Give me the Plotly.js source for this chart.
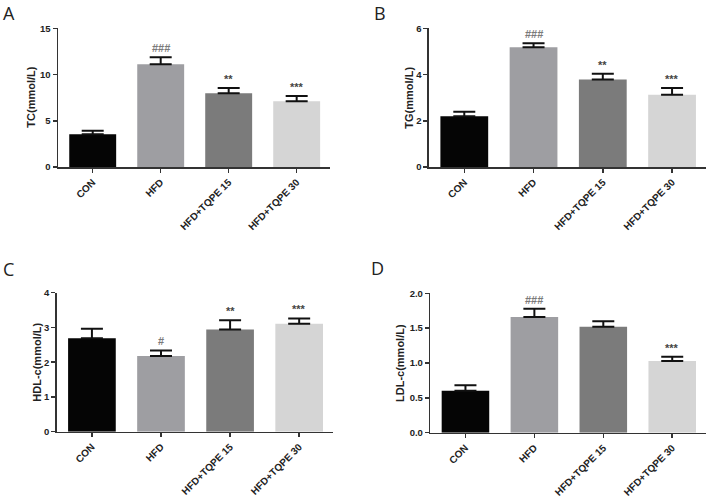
<!DOCTYPE html>
<html>
<head>
<meta charset="utf-8">
<script src="https://cdn.plot.ly/plotly-3.0.1.min.js"></script>
<style>html,body{margin:0;padding:0;background:#fff;}#chart{width:706px;height:499px;}</style>
</head>
<body>
<div id="chart"></div>
<script>
const categories = ['CON', 'HFD', 'HFD+TQPE 15', 'HFD+TQPE 30'];
const tcMean = [3.55, 11.1, 7.97, 7.12];
const tcErr = [0.38, 0.76, 0.57, 0.55];
const tgMean = [2.2, 5.18, 3.79, 3.13];
const tgErr = [0.19, 0.17, 0.24, 0.29];
const hdlMean = [2.69, 2.18, 2.94, 3.11];
const hdlErr = [0.27, 0.16, 0.27, 0.15];
const ldlMean = [0.60, 1.66, 1.52, 1.03];
const ldlErr = [0.08, 0.12, 0.08, 0.06];
const tcSig = ['', '###', '**', '***'];
const tgSig = ['', '###', '**', '***'];
const hdlSig = ['', '#', '**', '***'];
const ldlSig = ['', '###', '', '***'];
const yTitles = ['TC(mmol/L)', 'TG(mmol/L)', 'HDL-c(mmol/L)', 'LDL-c(mmol/L)'];
const panelLetters = ['A', 'B', 'C', 'D'];
const barColors = ['#050505', '#9e9ea2', '#7b7b7b', '#d5d5d5'];
const sigColors = ['#444444', '#7a7a7a', '#444444', '#444444'];

const panels = [
  {mean: tcMean, err: tcErr, sig: tcSig, xd: [0.0822, 0.4674], yd: [0.6653, 0.9433], yr: [0, 15], dt: 5, fmt: '', letter: [9, 13], tx: 31},
  {mean: tgMean, err: tgErr, sig: tgSig, xd: [0.6076, 1.0], yd: [0.6653, 0.9433], yr: [0, 6], dt: 2, fmt: '', letter: [380, 13], tx: 409},
  {mean: hdlMean, err: hdlErr, sig: hdlSig, xd: [0.0803, 0.4717], yd: [0.1349, 0.4134], yr: [0, 4], dt: 1, fmt: '', letter: [8, 269], tx: 37.5},
  {mean: ldlMean, err: ldlErr, sig: ldlSig, xd: [0.6095, 1.0], yd: [0.1329, 0.4122], yr: [0, 2], dt: 0.5, fmt: '.1f', letter: [377, 268], tx: 400}
];

const W = 706, H = 499;
const data = [];
const layout = {
  width: W, height: H,
  margin: {l: 0, r: 0, t: 0, b: 0},
  paper_bgcolor: '#fff', plot_bgcolor: '#fff',
  showlegend: false,
  annotations: []
};
const axFont = {family: 'Liberation Sans, Arial, sans-serif', size: 9.5, color: '#222', weight: 'bold'};

panels.forEach((p, i) => {
  const n = i === 0 ? '' : String(i + 1);
  data.push({
    type: 'bar',
    x: categories,
    y: p.mean,
    xaxis: 'x' + n,
    yaxis: 'y' + n,
    width: 0.69,
    marker: {color: barColors, line: {width: 0}},
    error_y: {type: 'data', symmetric: false, array: p.err, arrayminus: p.err.map(() => 0), color: '#111', thickness: 2, width: 11},
    hoverinfo: 'skip'
  });
  layout['xaxis' + n] = {
    domain: p.xd, anchor: 'y' + n,
    type: 'category', range: [-0.51, 3.49],
    showline: true, linecolor: '#333', linewidth: 1.5,
    ticks: 'outside', ticklen: 4, tickwidth: 1.5, tickcolor: '#333',
    tickangle: -45, tickfont: Object.assign({}, axFont, {size: 10}),
    showgrid: false, zeroline: false, fixedrange: true
  };
  layout['yaxis' + n] = {
    domain: p.yd, anchor: 'x' + n,
    range: p.yr, dtick: p.dt, tick0: 0, tickformat: p.fmt,
    showline: true, linecolor: '#333', linewidth: 1.5,
    ticks: 'outside', ticklen: 4, tickwidth: 1.5, tickcolor: '#333',
    tickfont: axFont,
    showgrid: false, zeroline: false, fixedrange: true
  };
  // y-axis title (rotated text beside the axis)
  layout.annotations.push({
    xref: 'paper', yref: 'paper',
    x: p.tx / W, y: (p.yd[0] + p.yd[1]) / 2,
    xanchor: 'center', yanchor: 'middle', textangle: -90,
    text: yTitles[i], showarrow: false,
    font: Object.assign({}, axFont, {size: 11})
  });
  p.sig.forEach((s, k) => {
    if (!s) return;
    layout.annotations.push({
      xref: 'x' + n, yref: 'y' + n,
      x: categories[k], y: p.mean[k] + p.err[k],
      text: s, showarrow: false, yanchor: 'bottom', yshift: 1,
      font: {family: 'Liberation Sans, Arial, sans-serif', size: 11, color: sigColors[k], weight: 'bold'}
    });
  });
  layout.annotations.push({
    xref: 'paper', yref: 'paper',
    x: p.letter[0] / W, y: 1 - p.letter[1] / H,
    xanchor: 'center', yanchor: 'middle',
    text: panelLetters[i], showarrow: false,
    font: {family: 'Open Sans, sans-serif', size: 18, color: '#222'}
  });
});

Plotly.newPlot('chart', data, layout, {staticPlot: true});
</script>
</body>
</html>
